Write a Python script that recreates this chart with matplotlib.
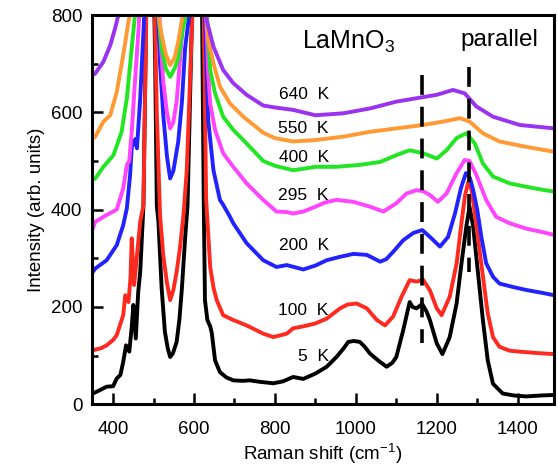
import matplotlib
matplotlib.use('Agg')
import matplotlib.pyplot as plt
from matplotlib.ticker import MultipleLocator

plt.rcParams['font.family'] = ['Liberation Sans', 'DejaVu Sans']
plt.rcParams['mathtext.fontset'] = 'custom'
plt.rcParams['mathtext.rm'] = 'Liberation Sans'
plt.rcParams['mathtext.it'] = 'Liberation Sans:italic'

# spectra (Raman shift in cm-1, offset intensity)
shift_5k = [350, 365, 384, 400, 409, 418, 425, 432, 440, 446, 450, 456, 462, 467, 475, 480, 490,
            500, 504, 508, 512, 520, 528, 535, 541, 548, 557, 564, 570, 578, 584, 595, 612, 620,
            624, 627, 633, 640, 644, 652, 664, 680, 697, 720, 738, 763, 796, 820, 845, 870, 900,
            928, 952, 970, 981, 995, 1010, 1022, 1035, 1055, 1076, 1090, 1100, 1117, 1133, 1140,
            1150, 1164, 1175, 1183, 1200, 1214, 1232, 1249, 1261, 1273, 1281, 1290, 1302, 1314,
            1326, 1339, 1363, 1390, 1421, 1460, 1490]
int_5k = [22, 28, 36, 37, 53, 60, 87, 121, 108, 159, 204, 135, 230, 272, 409, 700, 1400,
          900, 700, 409, 375, 238, 149, 115, 97, 105, 128, 175, 238, 341, 409, 800, 1500, 800,
          420, 214, 173, 160, 146, 90, 66, 55, 49, 48, 49, 46, 43, 47, 56, 52, 63,
          77, 97, 115, 128, 130, 128, 118, 104, 90, 77, 85, 97, 152, 210, 200,
          197, 206, 190, 173, 125, 103, 138, 207, 289, 365, 406, 365, 269, 173,
          90, 42, 22, 18, 16, 18, 19]

shift_100k = [350, 370, 384, 400, 409, 418, 425, 430, 438, 443, 446, 449, 452, 459, 467, 475, 482,
              492, 503, 508, 516, 524, 533, 541, 549, 557, 565, 574, 582, 596, 612, 624, 630, 640,
              648, 656, 672, 697, 730, 771, 796, 829, 845, 870, 900, 928, 961, 980, 1002, 1027,
              1052, 1072, 1092, 1113, 1133, 1150, 1166, 1183, 1200, 1212, 1232, 1249, 1261, 1270,
              1278, 1286, 1294, 1310, 1326, 1339, 1355, 1380, 1405, 1450, 1490]
int_100k = [111, 115, 121, 132, 142, 165, 183, 224, 210, 260, 341, 290, 245, 306, 375, 409, 800,
            1400, 800, 600, 389, 306, 250, 214, 235, 272, 320, 389, 480, 800, 1500, 800, 420, 282,
            240, 214, 183, 173, 162, 145, 138, 145, 156, 160, 166, 176, 197, 205, 207, 197,
            173, 162, 180, 221, 255, 252, 256, 234, 197, 183, 221, 289, 372, 430,
            457, 440, 392, 289, 187, 138, 118, 110, 108, 105, 103]

shift_200k = [350, 356, 384, 409, 425, 434, 442, 447, 450, 455, 459, 467, 475, 480, 492, 511, 516,
              524, 533, 541, 549, 561, 570, 578, 588, 612, 627, 630, 635, 648, 664, 672, 689, 697,
              730, 771, 804, 829, 870, 900, 928, 961, 994, 1027, 1060, 1075, 1092, 1117, 1142,
              1164, 1183, 1208, 1228, 1245, 1260, 1272, 1282, 1290, 1300, 1310, 1322, 1339, 1355,
              1388, 1420, 1460, 1490]
int_200k = [272, 279, 296, 327, 368, 403, 471, 540, 533, 545, 526, 629, 766, 850, 1400, 800, 700,
            594, 510, 464, 480, 540, 620, 732, 800, 1500, 800, 721, 584, 481, 420, 410, 385, 372,
            331, 296, 282, 286, 277, 285, 296, 303, 309, 307, 293, 298, 313, 337, 352,
            358, 344, 324, 344, 392, 445, 475, 465, 440, 400, 345, 290, 262, 248,
            241, 235, 229, 224]

shift_295k = [350, 356, 384, 409, 425, 430, 434, 440, 446, 454, 463, 470, 490, 516, 524, 533, 541,
              549, 557, 569, 575, 612, 630, 635, 640, 652, 672, 697, 730, 771, 804, 829, 845, 870,
              900, 925, 952, 994, 1035, 1068, 1100, 1125, 1150, 1166, 1183, 1203, 1224, 1249,
              1269, 1281, 1298, 1322, 1347, 1380, 1421, 1460, 1490]
int_295k = [362, 375, 389, 400, 444, 470, 492, 500, 560, 663, 773, 900, 1400, 766, 663, 600, 567,
            580, 622, 745, 800, 1500, 800, 680, 618, 564, 516, 488, 454, 420, 396, 395, 392, 396,
            406, 415, 420, 416, 406, 396, 413, 433, 440, 438, 430, 416, 433, 475,
            502, 500, 471, 420, 385, 372, 361, 354, 348]

shift_400k = [350, 356, 376, 401, 421, 434, 446, 454, 490, 512, 520, 530, 541, 552, 561, 572, 580,
              612, 632, 636, 640, 652, 672, 697, 730, 771, 800, 820, 845, 870, 900, 952, 1010,
              1060, 1100, 1133, 1166, 1200, 1224, 1249, 1273, 1294, 1314, 1339, 1380, 1421, 1460,
              1490]
int_400k = [462, 464, 488, 512, 560, 629, 732, 800, 1400, 800, 732, 690, 673, 690, 711, 770, 800,
            1500, 800, 740, 687, 639, 591, 564, 536, 500, 490, 486, 481, 484, 488, 488, 492,
            498, 512, 522, 516, 505, 522, 547, 557, 536, 495, 468, 454, 447, 441,
            437]

shift_550k = [350, 356, 376, 393, 409, 425, 438, 445, 490, 512, 520, 530, 541, 552, 561, 572, 612,
              630, 635, 648, 664, 689, 722, 771, 800, 845, 900, 969, 1035, 1100, 1166, 1216, 1257,
              1281, 1314, 1355, 1421, 1490]
int_550k = [547, 550, 581, 594, 642, 718, 786, 820, 1400, 800, 759, 720, 697, 712, 745, 800, 1500,
            800, 749, 701, 653, 618, 591, 558, 547, 540, 543, 550, 560, 567, 574, 581, 588,
            581, 557, 540, 529, 519]

shift_640k = [350, 356, 376, 393, 405, 413, 430, 490, 612, 631, 648, 672, 697, 730, 771, 800, 845,
              900, 969, 1035, 1100, 1150, 1200, 1240, 1269, 1298, 1339, 1405, 1490]
int_640k = [677, 680, 704, 738, 773, 800, 900, 1400, 1500, 790, 735, 687, 660, 636, 614, 610, 605,
            594, 598, 608, 622, 629, 636, 646, 639, 612, 591, 574, 567]

temperature_labels = ['5  K', '100  K', '200  K', '295  K', '400  K', '550  K', '640  K']
label_heights = [99, 193, 327, 430, 507, 567, 636]
curve_colors = ['#000000', '#ff2a1f', '#2222ff', '#ff44ff', '#22e622', '#ff9933', '#9933f0']

# dashed guides at the two high-frequency modes
guide_positions = [1163, 1280]
guide_bottoms = [125, 272]
guide_tops = [677, 694]


def main():
	shifts = [shift_5k, shift_100k, shift_200k, shift_295k, shift_400k, shift_550k, shift_640k]
	intensities = [int_5k, int_100k, int_200k, int_295k, int_400k, int_550k, int_640k]

	figure = plt.figure(figsize=(5.58, 4.70), dpi=100)
	axis = figure.add_axes([0.165, 0.140, 0.828, 0.828])

	for shift, intensity, color in zip(shifts, intensities, curve_colors):
		axis.plot(shift, intensity, color=color, linewidth=2.8, solid_joinstyle='round')

	for position, bottom, top in zip(guide_positions, guide_bottoms, guide_tops):
		axis.plot([position, position], [top, bottom], color='black', linewidth=2.6,
		          dashes=(5.5, 3.3), zorder=5)

	for label, height in zip(temperature_labels, label_heights):
		axis.text(933, height, label, ha='right', va='center', fontsize=12.5)

	axis.text(983, 745, 'LaMnO$_3$', ha='center', va='center', fontsize=18)
	axis.text(1355, 748, 'parallel', ha='center', va='center', fontsize=17.5)

	axis.set_xlim(348, 1490)
	axis.set_ylim(0, 800)
	axis.xaxis.set_major_locator(MultipleLocator(200))
	axis.xaxis.set_minor_locator(MultipleLocator(100))
	axis.yaxis.set_major_locator(MultipleLocator(200))
	axis.yaxis.set_minor_locator(MultipleLocator(100))
	axis.tick_params(which='both', direction='in', width=1.8, labelsize=13.5)
	axis.tick_params(which='major', length=8)
	axis.tick_params(which='minor', length=4.5)
	axis.tick_params(axis='x', which='major', pad=12)
	axis.tick_params(axis='y', which='major', pad=7)
	for spine in axis.spines.values():
		spine.set_linewidth(2.2)

	axis.set_xlabel('Raman shift (cm$^{-1}$)', fontsize=13.5, labelpad=3)
	axis.set_ylabel('Intensity (arb. units)', fontsize=13.5, labelpad=4)

	figure.savefig('out.png', dpi=100)


if __name__ == '__main__':
	main()
